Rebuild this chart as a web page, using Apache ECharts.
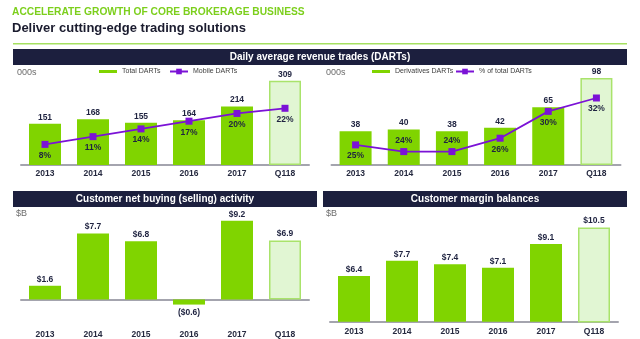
<!DOCTYPE html>
<html>
<head>
<meta charset="utf-8">
<script src="https://cdn.jsdelivr.net/npm/echarts@6/dist/echarts.min.js"></script>
<style>
  html, body { margin: 0; padding: 0; background: #fff; }
  #chart { width: 640px; height: 339px; }
</style>
</head>
<body>
<div id="chart"></div>
<script>
// Brokerage activity, 2013 – Q1 2018
const categories = ['2013', '2014', '2015', '2016', '2017', 'Q118'];
const totalDarts = [151, 168, 155, 164, 214, 309];          // 000s
const mobileShare = [8, 11, 14, 17, 20, 22];                // % of total DARTs
const derivativesDarts = [38, 40, 38, 42, 65, 98];          // 000s
const derivativesShare = [25, 24, 24, 26, 30, 32];          // % of total DARTs
const netBuying = [1.6, 7.7, 6.8, -0.6, 9.2, 6.9];          // $B
const marginBalances = [6.4, 7.7, 7.4, 7.1, 9.1, 10.5];     // $B

const FONT = '"Liberation Sans", Arial, Helvetica, sans-serif';
const GREEN = '#80d400';
const PARTIAL_FILL = '#e1f6d3';
const PARTIAL_BORDER = '#a9e36b';
const PURPLE = '#7b12d6';
const NAVY = '#1c1f3e';
const INK = '#1f2340';

// last period (Q1 2018) is shown as a pale bar
function barData(values) {
  return values.map((v, i) => i === values.length - 1
    ? { value: v, itemStyle: { color: PARTIAL_FILL, borderColor: PARTIAL_BORDER, borderWidth: 1.5 } }
    : v);
}

const valueLabel = (formatter) => ({
  show: true, position: 'top', distance: 2,
  fontFamily: FONT, fontSize: 8.5, fontWeight: 'bold', color: INK, formatter
});

function categoryAxis(gridIndex, margin) {
  return {
    type: 'category', gridIndex, data: categories,
    axisTick: { show: false },
    axisLine: { lineStyle: { color: '#a4a4ae', width: 2 } },
    axisLabel: { fontFamily: FONT, fontSize: 8.5, fontWeight: 'bold', color: '#262a40', margin }
  };
}

function hiddenAxis(gridIndex, min, max) {
  return { type: 'value', gridIndex, min, max, show: false, splitLine: { show: false } };
}

function shareLine(name, xi, yi, values, sides) {
  return {
    name, type: 'line', xAxisIndex: xi, yAxisIndex: yi, z: 5,
    data: values.map((v, i) => ({ value: v, label: { position: sides ? sides[i] : 'bottom' } })),
    symbol: 'rect', symbolSize: 7,
    lineStyle: { color: PURPLE, width: 1.8 },
    itemStyle: { color: PURPLE },
    label: {
      show: true, distance: 3, formatter: '{c}%',
      fontFamily: FONT, fontSize: 8.5, fontWeight: 'bold', color: INK
    }
  };
}

// one legend per entry so each can sit where it belongs; bar entries use a flat swatch
function legendAt(name, left, flat) {
  return {
    data: [flat ? { name, icon: 'path://M0,0H18V3H0Z' } : name],
    left, top: 68, itemWidth: 18, itemHeight: 7, padding: 0,
    selectedMode: false,
    textStyle: { fontFamily: FONT, fontSize: 7, color: '#404040' }
  };
}

function banner(x, y, w, text) {
  return {
    type: 'group', left: x, top: y,
    children: [
      { type: 'rect', shape: { x: 0, y: 0, width: w, height: 16 }, style: { fill: NAVY } },
      { type: 'text', x: w / 2, y: 8, style: {
          text, fill: '#ffffff', font: 'bold 10px ' + FONT, align: 'center', verticalAlign: 'middle' } }
    ]
  };
}

function unitText(x, y, text) {
  return { type: 'text', left: x, top: y, style: { text, fill: '#6b6b6b', font: '9px ' + FONT } };
}

const option = {
  animation: false,
  grid: [
    { left: 21, top: 72.2, width: 288, height: 92.8 },
    { left: 331.5, top: 72.2, width: 289, height: 92.8 },
    { left: 21, top: 213.9, width: 288, height: 97.7 },
    { left: 330, top: 213.9, width: 288, height: 107.8 }
  ],
  xAxis: [categoryAxis(0, 4), categoryAxis(1, 4), categoryAxis(2, 22), categoryAxis(3, 5)],
  yAxis: [
    hiddenAxis(0, 0, 340), hiddenAxis(0, 0, 36),
    hiddenAxis(1, 0, 104.5), hiddenAxis(1, 22, 35.85),
    hiddenAxis(2, -1, 10),
    hiddenAxis(3, 2.55, 11.65)
  ],
  legend: [
    legendAt('Total DARTs', 99, true),
    legendAt('Mobile DARTs', 169, false),
    legendAt('Derivatives DARTs', 372, true),
    legendAt('% of total DARTs', 455, false)
  ],
  series: [
    { name: 'Total DARTs', type: 'bar', xAxisIndex: 0, yAxisIndex: 0, barWidth: 32,
      itemStyle: { color: GREEN }, data: barData(totalDarts), label: valueLabel('{c}') },
    shareLine('Mobile DARTs', 0, 1, mobileShare),
    { name: 'Derivatives DARTs', type: 'bar', xAxisIndex: 1, yAxisIndex: 2, barWidth: 32,
      itemStyle: { color: GREEN }, data: barData(derivativesDarts), label: valueLabel('{c}') },
    shareLine('% of total DARTs', 1, 3, derivativesShare,
      ['bottom', 'top', 'top', 'bottom', 'bottom', 'bottom']),
    { name: 'Net buying', type: 'bar', xAxisIndex: 2, yAxisIndex: 4, barWidth: 32,
      itemStyle: { color: GREEN },
      data: barData(netBuying).map((d) => {
        const v = typeof d === 'object' ? d.value : d;
        if (v >= 0) return d;
        return { value: v, label: { position: 'bottom', distance: 4 } };
      }),
      label: valueLabel((p) => p.value >= 0
        ? '$' + p.value.toFixed(1)
        : '($' + (-p.value).toFixed(1) + ')') },
    { name: 'Margin balances', type: 'bar', xAxisIndex: 3, yAxisIndex: 5, barWidth: 32,
      itemStyle: { color: GREEN }, data: barData(marginBalances),
      label: valueLabel((p) => '$' + p.value.toFixed(1)) }
  ],
  graphic: [
    { type: 'text', left: 12, top: 6, scaleX: 0.89, style: {
        text: 'ACCELERATE GROWTH OF CORE BROKERAGE BUSINESS', fill: '#7ccf1c', font: 'bold 11.5px ' + FONT } },
    { type: 'text', left: 12, top: 22, style: {
        text: 'Deliver cutting-edge trading solutions', fill: '#1a1b2e', font: 'bold 13px ' + FONT } },
    { type: 'rect', left: 13, top: 43, shape: { x: 0, y: 0, width: 614, height: 1.5 }, style: { fill: '#a5e060' } },
    banner(13, 49, 614, 'Daily average revenue trades (DARTs)'),
    banner(13, 191, 304, 'Customer net buying (selling) activity'),
    banner(323, 191, 304, 'Customer margin balances'),
    unitText(17, 68, '000s'),
    unitText(326, 68, '000s'),
    unitText(16, 209, '$B'),
    unitText(326, 209, '$B')
  ]
};

const chart = echarts.init(document.getElementById('chart'), null, { renderer: 'canvas' });
chart.setOption(option);
</script>
</body>
</html>
